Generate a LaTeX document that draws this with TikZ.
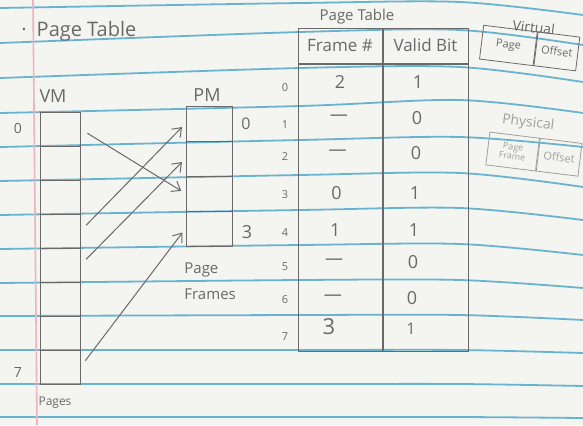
\documentclass[tikz,border=0pt]{standalone}
\usepackage{fontspec}
\setmainfont{Open Sans}
\usetikzlibrary{arrows.meta,positioning,calc}

\definecolor{paper}{RGB}{244,244,240}
\definecolor{ruled}{RGB}{104,180,208}
\definecolor{margin}{RGB}{236,180,190}
\definecolor{pencil}{RGB}{105,105,105}
\definecolor{faint}{RGB}{160,160,160}

\begin{document}
\begin{tikzpicture}[x=0.5pt, y=-0.5pt, >={Straight Barb[length=4pt,width=6pt]}]

		\tikzset{
			hand/.style={text=pencil, inner sep=1pt, font=\fontsize{9}{10}\selectfont},
			tiny/.style={text=pencil, inner sep=0.5pt, font=\fontsize{5.5}{6}\selectfont},
			vmcell/.style={draw=pencil, line width=0.5pt, minimum width=20pt, minimum height=17pt, inner sep=0pt},
			pmcell/.style={draw=pencil, line width=0.5pt, minimum width=23pt, minimum height=17.5pt, inner sep=0pt},
			hdr/.style={draw=pencil, line width=0.5pt, minimum height=17.5pt, inner sep=0pt, text=pencil, font=\fontsize{8.5}{9}\selectfont},
			colbox/.style={draw=pencil, line width=0.5pt, minimum height=143.5pt, inner sep=0pt},
			addrbox/.style={draw=pencil, line width=0.4pt, minimum height=17pt, inner sep=0pt, text=pencil, align=center, font=\fontsize{5.5}{5.5}\selectfont},
			map/.style={->, draw=pencil, line width=0.5pt, shorten <=4pt, shorten >=2.5pt}
		}

		% Ruled notebook paper
		\fill[paper] (0,0) rectangle (583,425);
		\useasboundingbox (0,0) rectangle (583,425);
		\foreach \a/\b/\c/\d in {8/3/2/15, 43/32/30/45, 78/68/67/82, 113/106/100/113,
			147/140/137/147, 181/175/173/187, 215/210/208/220, 249/245/244/255,
			283/280/280/288, 316/315/315/320, 350/350/350/353, 384/384/384/386, 417/417/417/418}
			\draw[ruled, line width=0.9pt] plot[smooth] coordinates {(0,\a) (300,\b) (460,\c) (583,\d)};
		\draw[margin, line width=0.8pt] (33,0) -- (37,425);

		% Title
		\node[hand, anchor=west, font=\fontsize{10}{11}\selectfont] (title) at (19,31) {\textperiodcentered\hspace{5pt}Page Table};

		% Virtual memory pages
		\node[hand] (vmlabel) at (53,96) {VM};
		\foreach \i in {0,...,7}
			\node[vmcell] (vm\i) at (60,{129+34*\i}) {};
		\node[tiny, font=\fontsize{7}{7}\selectfont] (vmfirst) at (18,128) {0};
		\node[tiny, font=\fontsize{7}{7}\selectfont] (vmlast) at (18,372) {7};
		\node[tiny, font=\fontsize{6}{6}\selectfont] (pages) at (55,403) {Pages};

		% Physical memory frames
		\node[hand] (pmlabel) at (207,95) {PM};
		\foreach \i in {0,...,3}
			\node[pmcell] (pm\i) at (209,{123.5+35*\i}) {};
		\node[hand, font=\fontsize{8}{8}\selectfont] (pmfirst) at (246,124) {0};
		\node[hand] (pmlast) at (247,232) {3};
		\node[hand, anchor=north west, align=left, font=\fontsize{7.5}{13}\selectfont] (frames) at (182,260) {Page\\Frames};

		% Mapping pages -> frames
		\foreach \v/\p in {0/2, 3/0, 4/1, 7/3}
			\draw[map] (vm\v.east) -- (pm\p.west);

		% The page table
		\node[hand, font=\fontsize{7.5}{8}\selectfont] (ptlabel) at (357,17) {Page Table};
		\node[hdr, minimum width=42pt] (hframe) at (340,45.5) {Frame \#};
		\node[hdr, minimum width=42.5pt, right=0pt of hframe] (hvalid) {Valid Bit};
		\node[colbox, minimum width=42pt, below=0pt of hframe] (cframe) {};
		\node[colbox, minimum width=42.5pt, below=0pt of hvalid] (cvalid) {};

		\foreach \r/\iy/\y/\f/\b in {0/88/82/2/1, 1/125/118/\textemdash/0, 2/157/153/\textemdash/0,
			3/195/193/0/1, 4/233/230/1/1, 5/267/262/\textemdash/0, 6/300/298/\textemdash/0}{
			\node[tiny] (idx\r) at (285,\iy) {\r};
			\node[hand] (fr\r) at ({340-1.2*\r},\y) {\f};
			\node[hand] (vb\r) at ({418-1*\r},\y) {\b};
		}
		\node[tiny] (idx7) at (285,337) {7};
		\node[hand, font=\fontsize{11}{11}\selectfont] (fr7) at (329,327) {3};
		\node[hand, font=\fontsize{8}{8}\selectfont] (vb7) at (411,329) {1};

		% Virtual address
		\begin{scope}[rotate around={-7:(529,50)}, transform shape]
			\node[hand, font=\fontsize{7}{7}\selectfont] (virtlabel) at (531,27) {Virtual};
			\node[addrbox, minimum width=27pt] (vpage) at (508,48) {Page};
			\node[addrbox, minimum width=21pt, right=0pt of vpage] (voffset) {Offset};
		\end{scope}

		% Physical address
		\begin{scope}[rotate around={-7:(533,150)}, transform shape]
			\node[hand, text=faint, font=\fontsize{7}{7}\selectfont] (physlabel) at (525,124) {Physical};
			\node[addrbox, draw=faint, text=faint, minimum width=25pt, minimum height=16.5pt,
				font=\fontsize{4.5}{4.5}\selectfont] (ppage) at (513,154) {Page\\Frame};
			\node[addrbox, draw=faint, text=faint, minimum width=21pt, minimum height=16.5pt,
				right=0pt of ppage] (poffset) {Offset};
		\end{scope}

\end{tikzpicture}
\end{document}
